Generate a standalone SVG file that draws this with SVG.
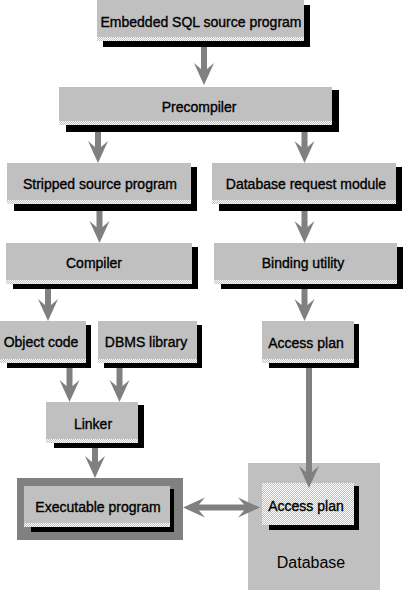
<svg xmlns="http://www.w3.org/2000/svg" width="403" height="591" viewBox="0 0 403 591">
<defs>
<pattern id="dither" width="2" height="2" patternUnits="userSpaceOnUse">
<rect width="2" height="2" fill="#c0c0c0"/>
<rect width="1" height="1" fill="#ffffff"/>
<rect x="1" y="1" width="1" height="1" fill="#ffffff"/>
</pattern>
<marker id="ah" markerUnits="userSpaceOnUse" viewBox="-22 -11 23 22" markerWidth="23" markerHeight="22" refX="-16" refY="0" orient="auto-start-reverse">
<path d="M0,0 L-22,-10 L-16,-3 L-16,3 L-22,10 Z" fill="#808080"/>
</marker>
</defs>
<style>
.box{fill:#c0c0c0}
.sh{fill:#000000}
.dz{fill:url(#dither)}
.t{font-family:"Liberation Sans",Arial,sans-serif;font-size:14px;fill:#000;stroke:#000;stroke-width:0.35;text-anchor:middle}
.db{font-family:"Liberation Sans",Arial,sans-serif;font-size:16px;fill:#000;text-anchor:middle}
.c{stroke:#808080;stroke-width:6;fill:none;marker-end:url(#ah)}
</style>
<rect width="403" height="591" fill="#ffffff"/>

<g id="n-embedded">
<rect class="sh" x="103" y="5" width="207" height="42"/>
<rect class="box" x="97" y="0" width="207" height="37"/>
<rect class="dz" x="97" y="37" width="207" height="4"/>
<text class="t" x="201" y="27">Embedded SQL source program</text>
</g>
<g id="n-precompiler">
<rect class="sh" x="66" y="90" width="273" height="42"/>
<rect class="box" x="59" y="87" width="273" height="34"/>
<rect class="dz" x="59" y="121" width="273" height="4"/>
<text class="t" x="199" y="112">Precompiler</text>
</g>
<g id="n-stripped">
<rect class="sh" x="14" y="167" width="183" height="44"/>
<rect class="box" x="7" y="163" width="184" height="37"/>
<rect class="dz" x="7" y="200" width="184" height="4"/>
<text class="t" x="100" y="189">Stripped source program</text>
</g>
<g id="n-drm">
<rect class="sh" x="219" y="167" width="183" height="44"/>
<rect class="box" x="212" y="163" width="184" height="37"/>
<rect class="dz" x="212" y="200" width="184" height="4"/>
<text class="t" x="306" y="189">Database request module</text>
</g>
<g id="n-compiler">
<rect class="sh" x="13" y="247" width="185" height="42"/>
<rect class="box" x="6" y="243" width="186" height="37"/>
<rect class="dz" x="6" y="280" width="186" height="4"/>
<text class="t" x="94" y="268">Compiler</text>
</g>
<g id="n-binding">
<rect class="sh" x="221" y="247" width="182" height="42"/>
<rect class="box" x="214" y="243" width="183" height="37"/>
<rect class="dz" x="214" y="280" width="183" height="4"/>
<text class="t" x="303" y="268">Binding utility</text>
</g>
<g id="n-object">
<rect class="sh" x="7" y="325" width="84" height="43"/>
<rect class="box" x="0" y="321" width="86" height="38"/>
<rect class="dz" x="0" y="359" width="86" height="4"/>
<text class="t" x="41" y="347">Object code</text>
</g>
<g id="n-dbms">
<rect class="sh" x="104" y="325" width="98" height="43"/>
<rect class="box" x="98" y="321" width="99" height="38"/>
<rect class="dz" x="98" y="359" width="99" height="4"/>
<text class="t" x="146" y="347">DBMS library</text>
</g>
<g id="n-access1">
<rect class="sh" x="269" y="324" width="90" height="44"/>
<rect class="box" x="262" y="321" width="92" height="38"/>
<rect class="dz" x="262" y="359" width="92" height="4"/>
<text class="t" x="306" y="348">Access plan</text>
</g>
<g id="n-linker">
<rect class="sh" x="54" y="405" width="90" height="43"/>
<rect class="box" x="46" y="402" width="92" height="37"/>
<rect class="dz" x="46" y="439" width="92" height="4"/>
<text class="t" x="93" y="429">Linker</text>
</g>
<g id="n-executable">
<rect x="17" y="478" width="166" height="62" fill="#808080"/>
<rect class="sh" x="31" y="489" width="143" height="43"/>
<rect class="box" x="24" y="486" width="146" height="37"/>
<rect class="dz" x="24" y="523" width="146" height="4"/>
<text class="t" x="98" y="512">Executable program</text>
</g>
<g id="n-database">
<rect class="box" x="248" y="463" width="132" height="127"/>
<rect class="sh" x="269" y="486" width="90" height="44"/>
<rect class="dz" x="262" y="483" width="92" height="42"/>
<text class="t" x="306" y="511">Access plan</text>
<text class="db" x="311" y="568">Database</text>
</g>

<g id="connectors">
<line class="c" x1="204" y1="47" x2="204" y2="69"/>
<line class="c" x1="98" y1="132" x2="98" y2="147"/>
<line class="c" x1="304.5" y1="132" x2="304.5" y2="147"/>
<line class="c" x1="99.5" y1="211" x2="99.5" y2="227"/>
<line class="c" x1="304.5" y1="211" x2="304.5" y2="227"/>
<line class="c" x1="48" y1="289" x2="48" y2="305"/>
<line class="c" x1="304.5" y1="289" x2="304.5" y2="305"/>
<line class="c" x1="69.5" y1="368" x2="69.5" y2="386"/>
<line class="c" x1="119.5" y1="368" x2="119.5" y2="386"/>
<line class="c" x1="95" y1="448" x2="95" y2="462"/>
<line class="c" x1="309" y1="368" x2="309" y2="472" stroke-width="5"/>
<line class="c" x1="199" y1="507.5" x2="244" y2="507.5" stroke-width="5" marker-start="url(#ah)"/>
</g>
</svg>
